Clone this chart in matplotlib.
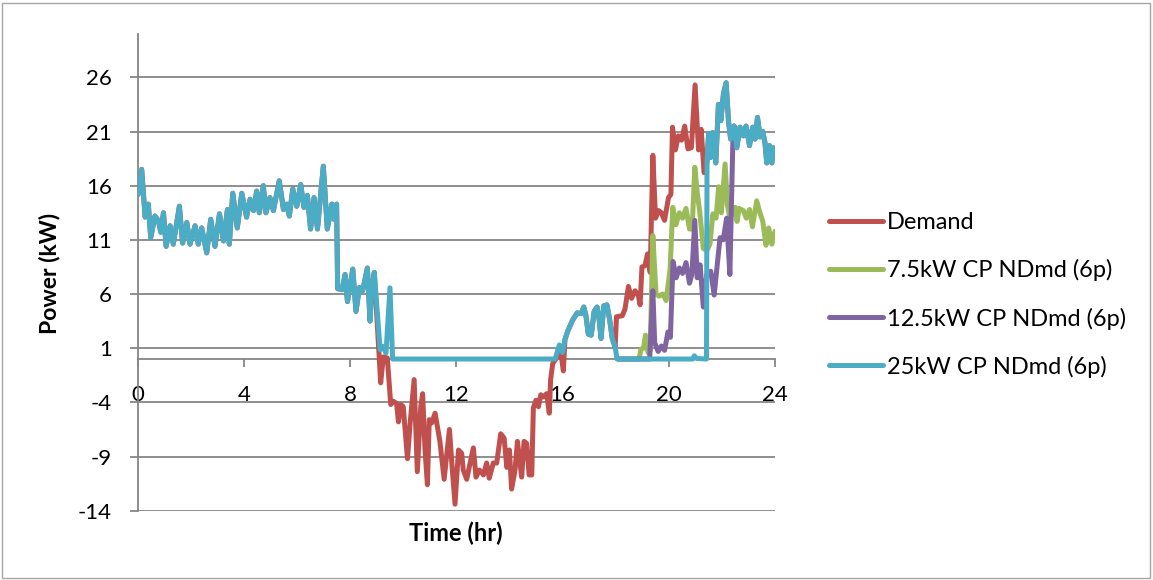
import matplotlib
matplotlib.use('Agg')
import matplotlib.pyplot as plt
from matplotlib.patches import Rectangle

plt.rcParams['font.family'] = ['Lato', 'DejaVu Sans']
plt.rcParams['axes.unicode_minus'] = False

# ---------------- data (hours, kW) ----------------
# shared morning segment (all series identical)
t_am = [0.02, 0.15, 0.28, 0.40, 0.49, 0.65, 0.78, 0.87, 0.97, 1.07, 1.22, 1.34, 1.57, 1.69,
        1.85, 1.97, 2.16, 2.28, 2.41, 2.60, 2.75, 2.91, 3.08, 3.23, 3.38, 3.45, 3.58, 3.75,
        3.92, 4.10, 4.23, 4.36, 4.48, 4.58, 4.73, 4.83, 4.98, 5.11, 5.33, 5.49, 5.61, 5.71,
        5.84, 5.99, 6.14, 6.26, 6.39, 6.51, 6.64, 6.77, 6.99, 7.14, 7.31, 7.39, 7.49, 7.53,
        7.70, 7.81, 7.90, 8.10, 8.22, 8.35, 8.47, 8.65, 8.75, 8.81, 8.91]
p_am = [15.2, 17.5, 13.1, 14.3, 11.2, 13.2, 12.75, 11.7, 13.5, 10.4, 12.3, 10.6, 14.1, 10.7,
        12.6, 10.6, 12.3, 10.6, 12.1, 9.8, 12.9, 10.4, 13.4, 10.9, 13.8, 10.6, 15.3, 12.1,
        15.3, 13.1, 14.75, 13.7, 15.5, 13.5, 16.0, 13.5, 14.9, 13.7, 16.45, 13.8, 14.3, 13.2,
        15.7, 14.1, 16.1, 14.0, 15.1, 12.0, 14.9, 12.0, 17.8, 12.0, 14.3, 12.9, 14.3, 6.5,
        6.4, 7.8, 5.3, 8.3, 4.4, 6.6, 6.3, 8.4, 3.5, 6.4, 8.0]

# demand midday (net negative)
t_dem_mid = [9.15, 9.25, 9.40, 9.53, 9.63, 9.75, 9.82, 9.91, 10.00, 10.16, 10.26, 10.41,
             10.53, 10.66, 10.73, 10.82, 10.91, 10.98, 11.07, 11.20, 11.32, 11.38, 11.54,
             11.74, 11.83, 11.95, 12.08, 12.20, 12.26, 12.39, 12.52, 12.64, 12.74, 12.87,
             13.02, 13.14, 13.24, 13.39, 13.52, 13.67, 13.80, 13.90, 14.00, 14.08, 14.21,
             14.30, 14.40, 14.46, 14.55, 14.65, 14.74, 14.84, 14.90, 15.00, 15.09, 15.18,
             15.28, 15.40, 15.50, 15.55, 15.63, 15.78, 15.90, 16.03]
p_dem_mid = [-2.2, 0.2, 0.1, -4.2, -3.9, -4.1, -5.8, -4.2, -4.4, -9.2, -5.9, -1.9,
             -10.4, -4.4, -3.2, -8.4, -11.6, -5.6, -5.9, -5.0, -6.7, -7.6, -11.1,
             -6.5, -9.6, -13.4, -8.4, -8.7, -10.25, -11.1, -9.6, -8.2, -10.9, -10.25,
             -10.7, -9.6, -11.0, -9.6, -9.6, -6.9, -7.3, -10.0, -8.4, -12.0, -10.25,
             -7.6, -9.6, -10.9, -7.6, -7.8, -10.7, -10.7, -4.5, -3.8, -4.4, -3.3,
             -3.5, -3.2, -5.0, -1.9, -0.4, 0.1, 1.2, -1.1]

# charging-profile series midday (clipped at zero)
t_cp_mid = [9.13, 9.23, 9.35, 9.50, 9.60, 15.72, 15.88, 16.00]
p_cp_mid = [0.86, 1.17, 0.55, 6.57, 0.0, 0.0, 1.3, 0.6]

# shared afternoon segment
t_pm = [16.09, 16.20, 16.38, 16.55, 16.70, 16.80, 16.88, 16.97, 17.08, 17.19, 17.30,
        17.38, 17.45, 17.55, 17.67, 17.77, 17.87, 17.98]
p_pm = [1.8, 2.6, 3.6, 4.25, 4.2, 4.8, 4.0, 2.3, 2.2, 4.4, 4.8,
        3.6, 1.9, 4.9, 5.0, 3.7, 1.9, 1.1]

# demand evening
t_dem_eve = [18.03, 18.25, 18.35, 18.48, 18.60, 18.73, 18.85, 18.92, 18.99, 19.10, 19.20,
             19.30, 19.40, 19.50, 19.62, 19.72, 19.84, 19.99, 20.08, 20.14, 20.25, 20.36,
             20.48, 20.60, 20.72, 20.85, 20.99, 21.12, 21.22, 21.33]
p_dem_eve = [3.9, 4.0, 4.6, 6.7, 5.6, 6.3, 5.9, 5.0, 8.5, 8.6, 9.7,
             8.0, 18.8, 13.0, 13.7, 13.5, 12.8, 14.9, 15.2, 21.4, 19.3, 20.6,
             20.2, 21.5, 19.4, 19.5, 25.3, 19.3, 21.2, 17.2]

# 25 kW CP evening (before the late rise)
t_cp25_eve = [18.05, 20.90, 20.96, 21.05, 21.42]
p_cp25_eve = [0.0, 0.0, 0.3, 0.05, 0.0]

# shared late segment (demand / 25 kW CP)
t_late = [21.44, 21.50, 21.57, 21.65, 21.77, 21.87, 21.96, 22.06, 22.16, 22.25, 22.33,
          22.46, 22.56, 22.68, 22.81, 22.91, 23.04, 23.16, 23.25, 23.34, 23.44, 23.54,
          23.62, 23.69, 23.79, 23.88, 23.94, 24.00]
p_late = [18.2, 20.8, 18.6, 20.9, 18.1, 23.5, 22.0, 24.5, 25.5, 21.9, 20.3,
          21.5, 19.5, 21.4, 20.6, 21.5, 19.7, 21.4, 20.3, 22.3, 20.5, 21.0,
          20.0, 18.1, 19.7, 18.1, 19.5, 19.0]

# 7.5 kW CP evening
t_cp75 = [18.10, 18.88, 18.95, 19.05, 19.12, 19.22, 19.30, 19.40, 19.52, 19.63, 19.77,
          19.90, 20.05, 20.15, 20.27, 20.40, 20.52, 20.65, 20.78, 20.88, 20.98, 21.07,
          21.17, 21.30, 21.43, 21.55, 21.66, 21.78, 21.88, 21.98, 22.12, 22.21, 22.30,
          22.40, 22.50, 22.57, 22.65, 22.81, 22.92, 23.04, 23.15, 23.31, 23.42, 23.54,
          23.66, 23.76, 23.88, 24.00]
p_cp75 = [0.0, 0.0, 0.9, 1.0, 2.2, 0.6, 0.8, 11.4, 6.0, 5.8, 6.0,
          5.4, 8.3, 14.0, 12.4, 13.5, 13.0, 13.9, 12.0, 12.0, 17.7, 15.4,
          13.5, 10.2, 10.0, 10.6, 13.4, 13.0, 15.9, 13.5, 18.0, 14.2, 13.0,
          13.5, 14.0, 12.7, 13.9, 13.7, 13.0, 13.8, 12.2, 14.6, 13.6, 12.7,
          10.5, 12.1, 10.6, 11.8]

# 12.5 kW CP evening
t_cp125 = [18.10, 19.28, 19.40, 19.47, 19.60, 19.72, 19.84, 19.97, 20.06, 20.16, 20.28,
           20.40, 20.52, 20.65, 20.78, 20.87, 20.98, 21.07, 21.18, 21.30, 21.43, 21.58,
           21.71, 21.80, 21.93, 22.05, 22.18, 22.30, 22.41, 22.46]
p_cp125 = [0.0, 0.0, 6.3, 1.5, 0.7, 1.2, 0.8, 2.5, 2.0, 9.0, 7.5,
           8.4, 7.9, 8.9, 7.0, 7.8, 12.8, 7.5, 8.7, 4.8, 7.8, 8.1,
           5.9, 8.1, 11.2, 11.0, 13.0, 7.8, 19.8, 21.5]

labels = ['Demand', '7.5kW CP NDmd (6p)', '12.5kW CP NDmd (6p)', '25kW CP NDmd (6p)']
colors = ['#C0504D', '#9BBB59', '#8064A2', '#4BACC6']

y_ticks = [-14, -9, -4, 1, 6, 11, 16, 21, 26]
x_ticks = [0, 4, 8, 12, 16, 20, 24]

# build full series from the segments
t_dem = t_am + t_dem_mid + t_pm + t_dem_eve + t_late
p_dem = p_am + p_dem_mid + p_pm + p_dem_eve + p_late
t_cp25 = t_am + t_cp_mid + t_pm + t_cp25_eve + t_late
p_cp25 = p_am + p_cp_mid + p_pm + p_cp25_eve + p_late

series = [(t_dem, p_dem), (t_cp75, p_cp75), (t_cp125, p_cp125), (t_cp25, p_cp25)]

# ---------------- figure ----------------
W, H = 1153, 580
fig = plt.figure(figsize=(W / 100, H / 100), dpi=100)
ax = fig.add_axes([137.7 / W, 1 - 510.7 / H, (775 - 137.7) / W, (510.7 - 34) / H])

grid_c = '#868686'
for (tt, pp), lab, c in zip(series, labels, colors):
    ax.plot(tt, pp, color=c, lw=3.6, label=lab, solid_joinstyle='round',
            solid_capstyle='round', zorder=3)

ax.set_xlim(0, 24)
ax.set_ylim(-14, 30)
ax.set_yticks(y_ticks)
ax.set_xticks(x_ticks)
ax.yaxis.grid(True, color=grid_c, lw=1.3, zorder=1)
ax.set_axisbelow(True)

for s in ['top', 'right']:
    ax.spines[s].set_visible(False)
ax.spines['left'].set_color(grid_c)
ax.spines['left'].set_linewidth(1.3)
ax.spines['bottom'].set_position(('data', 0))
ax.spines['bottom'].set_color(grid_c)
ax.spines['bottom'].set_linewidth(1.3)
ax.spines['bottom'].set_zorder(2)

ax.tick_params(axis='y', direction='out', length=6, width=1.3, color=grid_c,
               labelsize=16, pad=12.5)
ax.tick_params(axis='x', direction='out', length=6, width=1.3, color=grid_c,
               labelsize=16, pad=12.5)

fig.text(50 / W, 1 - 273 / H, 'Power (kW)', rotation=90, ha='center', va='center',
         fontsize=16.5, fontweight='bold')
fig.text(456 / W, 1 - 533 / H, 'Time (hr)', ha='center', va='center',
         fontsize=17, fontweight='bold')

leg = ax.legend(loc='center left', bbox_to_anchor=(829 / W, 1 - 295 / H),
                bbox_transform=fig.transFigure, frameon=False, fontsize=17,
                handlelength=2.3, handletextpad=0.15, labelspacing=1.1,
                borderpad=0, borderaxespad=0)
for ln in leg.get_lines():
    ln.set_linewidth(3.6)
    ln.set_solid_capstyle('round')

fig.patches.append(Rectangle((2 / W, 2 / H), 1 - 5 / W, 1 - 5 / H, transform=fig.transFigure,
                             fill=False, edgecolor='#A6A6A6', lw=1.0))

fig.savefig('out.png', dpi=100)
